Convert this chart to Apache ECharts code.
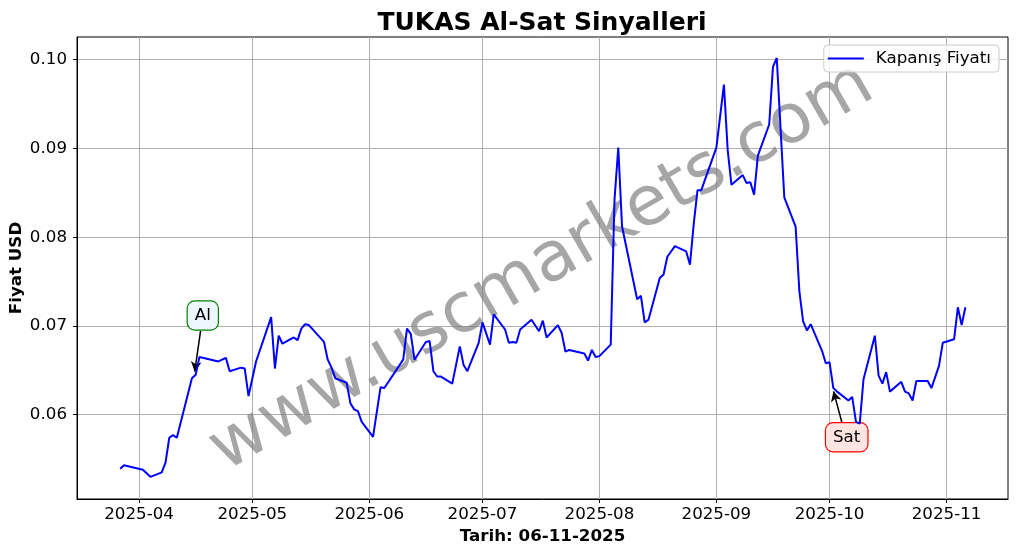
<!DOCTYPE html>
<html>
<head>
<meta charset="utf-8">
<script src="https://cdn.jsdelivr.net/npm/echarts@6/dist/echarts.min.js"></script>
<style>
html,body{margin:0;padding:0;background:#fff;}
#chart{width:1017px;height:554px;}
</style>
</head>
<body>
<div id="chart"></div>
<script>
// ---- data ----
const dates = [
'2025-03-27','2025-03-28','2025-04-02','2025-04-04','2025-04-07','2025-04-08','2025-04-09','2025-04-10','2025-04-11',
'2025-04-15','2025-04-16','2025-04-17','2025-04-22','2025-04-24','2025-04-25','2025-04-28','2025-04-29','2025-04-30',
'2025-05-02','2025-05-06','2025-05-07','2025-05-08','2025-05-09','2025-05-12','2025-05-13','2025-05-14','2025-05-15',
'2025-05-16','2025-05-20','2025-05-21','2025-05-22','2025-05-23','2025-05-26','2025-05-27','2025-05-28','2025-05-29',
'2025-05-30','2025-06-02','2025-06-04','2025-06-05','2025-06-10','2025-06-11','2025-06-12','2025-06-13','2025-06-16',
'2025-06-17','2025-06-18','2025-06-19','2025-06-20','2025-06-23','2025-06-25','2025-06-26','2025-06-27','2025-06-30',
'2025-07-01','2025-07-03','2025-07-04','2025-07-07','2025-07-08','2025-07-09','2025-07-10','2025-07-11','2025-07-14',
'2025-07-16','2025-07-17','2025-07-18','2025-07-21','2025-07-22','2025-07-23','2025-07-24','2025-07-28','2025-07-29',
'2025-07-30','2025-07-31','2025-08-01','2025-08-04','2025-08-05','2025-08-06','2025-08-07','2025-08-11','2025-08-12',
'2025-08-13','2025-08-14','2025-08-17','2025-08-18','2025-08-19','2025-08-21','2025-08-24','2025-08-25','2025-08-26',
'2025-08-27','2025-08-28','2025-09-01','2025-09-03','2025-09-04','2025-09-05','2025-09-08','2025-09-09','2025-09-10',
'2025-09-11','2025-09-12','2025-09-15','2025-09-16','2025-09-17','2025-09-19','2025-09-22','2025-09-23','2025-09-24',
'2025-09-25','2025-09-26','2025-09-29','2025-09-30','2025-10-01','2025-10-02','2025-10-03','2025-10-06','2025-10-07',
'2025-10-08','2025-10-09','2025-10-10','2025-10-13','2025-10-14','2025-10-15','2025-10-16','2025-10-17','2025-10-20',
'2025-10-21','2025-10-22','2025-10-23','2025-10-24','2025-10-27','2025-10-28','2025-10-30','2025-10-31','2025-11-03',
'2025-11-04','2025-11-05','2025-11-06'
];
const closePrices = [
0.0539,0.0543,0.0538,0.0530,0.0535,0.0546,0.0574,0.0577,0.0574,
0.0641,0.0645,0.0665,0.0660,0.0664,0.0649,0.0653,0.0652,0.0621,
0.0660,0.0710,0.0652,0.0689,0.0680,0.0687,0.0684,0.0697,0.0702,
0.0701,0.0682,0.0662,0.0653,0.0641,0.0636,0.0613,0.0606,0.0604,
0.0592,0.0575,0.0631,0.0630,0.0662,0.0697,0.0691,0.0662,0.0682,
0.0683,0.0649,0.0643,0.0643,0.0635,0.0677,0.0656,0.0649,0.0681,
0.0704,0.0679,0.0713,0.0696,0.0681,0.0682,0.0681,0.0696,0.0707,
0.0694,0.0706,0.0687,0.0701,0.0692,0.0671,0.0673,0.0669,0.0661,
0.0673,0.0665,0.0666,0.0679,0.0842,0.0901,0.0812,0.0730,0.0734,
0.0704,0.0707,0.0754,0.0758,0.0778,0.0790,0.0784,0.0769,0.0815,
0.0853,0.0853,0.0901,0.0972,0.0898,0.0859,0.0870,0.0861,0.0862,
0.0848,0.0892,0.0927,0.0992,0.1002,0.0845,0.0812,0.0739,0.0705,
0.0695,0.0702,0.0672,0.0658,0.0659,0.0630,0.0626,0.0616,0.0620,
0.0592,0.0590,0.0640,0.0689,0.0644,0.0635,0.0648,0.0626,0.0637,
0.0626,0.0624,0.0616,0.0638,0.0638,0.0630,0.0655,0.0681,0.0685,
0.0721,0.0701,0.0721
];
const monthTicks = ['2025-04-01','2025-05-01','2025-06-01','2025-07-01','2025-08-01','2025-09-01','2025-10-01','2025-11-01'];
const yTicks = [0.06, 0.07, 0.08, 0.09, 0.10];
const xRange = ['2025-03-15T13:00', '2025-11-17T07:00'];
const yRange = [0.0505, 0.10256];

// annotations: label, text anchor (date,value), arrow start (date,value), arrow tip (date,value)
const signalLabels = ['Al', 'Sat'];
const signalTextPos = [['2025-04-17T21:00', 0.07118], ['2025-10-05T13:00', 0.05746]];
const signalArrowFrom = [['2025-04-17T07:00', 0.06944], ['2025-10-04T07:00', 0.05910]];
const signalArrowTo = [['2025-04-15T18:00', 0.06485], ['2025-10-02T01:00', 0.06263]];
const signalFill = ['#eef6ff', '#ffe4e1'];
const signalBorder = ['#008000', '#ff0000'];

const FONT = 'DejaVu Sans';
const FS = 16.7;

function ts(s) {
  const m = s.match(/^(\d+)-(\d+)-(\d+)(?:T(\d+):(\d+))?$/);
  return new Date(+m[1], +m[2] - 1, +m[3], m[4] ? +m[4] : 0, m[5] ? +m[5] : 0).getTime();
}
function fmtMonth(v) {
  const d = new Date(v);
  return d.getFullYear() + '-' + String(d.getMonth() + 1).padStart(2, '0');
}

const seriesData = dates.map((d, i) => [ts(d), closePrices[i]]);
const monthTickValues = monthTicks.map(ts);
const P = p => [ts(p[0]), p[1]];

const chart = echarts.init(document.getElementById('chart'), null, {renderer: 'canvas'});

const option = {
  animation: false,
  backgroundColor: '#ffffff',
  title: {
    text: 'TUKAS Al-Sat Sinyalleri',
    left: 537, top: 6, textAlign: 'center',
    textStyle: {fontFamily: FONT, fontSize: 25, fontWeight: 'bold', color: '#000'}
  },
  legend: {
    data: [{name: 'Kapanış Fiyatı', icon: 'rect'}],
    right: 18, top: 45,
    padding: [5, 8, 5, 4],
    itemWidth: 36, itemHeight: 2,
    backgroundColor: 'rgba(255,255,255,0.8)',
    borderColor: '#cccccc', borderWidth: 1, borderRadius: 4,
    textStyle: {fontFamily: FONT, fontSize: FS, color: '#000', padding: [0, 0, 0, 7], lineHeight: 17}
  },
  grid: {
    left: 77, right: 9, top: 37, bottom: 55,
    outerBoundsMode: 'none', containLabel: false,
    show: true, borderColor: '#000', borderWidth: 1, backgroundColor: 'transparent'
  },
  xAxis: {
    type: 'value',
    min: ts(xRange[0]), max: ts(xRange[1]),
    name: 'Tarih: 06-11-2025',
    nameLocation: 'middle', nameGap: 29,
    nameTextStyle: {fontFamily: FONT, fontSize: FS, fontWeight: 'bold', color: '#000'},
    axisLine: {show: true, lineStyle: {color: '#000', width: 1}},
    axisTick: {show: true, length: 4, lineStyle: {color: '#000'}, customValues: monthTickValues},
    axisLabel: {fontFamily: FONT, fontSize: FS, color: '#000', margin: 7, customValues: monthTickValues, formatter: fmtMonth},
    splitLine: {show: true, lineStyle: {color: '#b0b0b0', width: 1}},
    axisPointer: {show: false}
  },
  yAxis: {
    type: 'value',
    min: yRange[0], max: yRange[1],
    name: 'Fiyat USD',
    nameLocation: 'middle', nameGap: 52, nameRotate: 90, nameMoveOverlap: false,
    nameTextStyle: {fontFamily: FONT, fontSize: FS, fontWeight: 'bold', color: '#000'},
    axisLine: {show: true, lineStyle: {color: '#000', width: 1}},
    axisTick: {show: true, length: 4, lineStyle: {color: '#000'}, customValues: yTicks},
    axisLabel: {fontFamily: FONT, fontSize: FS, color: '#000', margin: 10, customValues: yTicks, formatter: v => v.toFixed(2)},
    splitLine: {show: true, lineStyle: {color: '#b0b0b0', width: 1}}
  },
  graphic: [{
    type: 'text',
    x: 542, y: 268,
    rotation: Math.PI / 6,
    z: 1,
    silent: true,
    style: {
      text: 'www.uscmarkets.com',
      font: 'normal 69px "DejaVu Sans"',
      fill: 'rgba(128,128,128,0.7)',
      align: 'center', verticalAlign: 'middle'
    }
  }],
  series: [{
    name: 'Kapanış Fiyatı',
    type: 'line',
    data: seriesData,
    showSymbol: false, symbol: 'none',
    z: 5,
    lineStyle: {color: '#0000ff', width: 2},
    itemStyle: {color: '#0000ff'},
    markLine: {
      silent: true,
      symbol: ['none', 'arrow'],
      symbolSize: [8, 10],
      label: {show: false},
      lineStyle: {color: '#000', width: 1.5, type: 'solid'},
      data: signalLabels.map((l, i) => [
        {coord: P(signalArrowFrom[i])},
        {coord: P(signalArrowTo[i])}
      ])
    },
    markPoint: {
      silent: true,
      data: signalLabels.map((l, i) => ({
        coord: P(signalTextPos[i]),
        symbol: 'circle', symbolSize: 0,
        label: {
          show: true, position: 'inside', formatter: l,
          fontFamily: FONT, fontSize: FS, color: '#000',
          backgroundColor: signalFill[i], borderColor: signalBorder[i], borderWidth: 1.2,
          borderRadius: 7, padding: [6, 7, 5, 7]
        }
      }))
    }
  }]
};
chart.setOption(option);
</script>
</body>
</html>
